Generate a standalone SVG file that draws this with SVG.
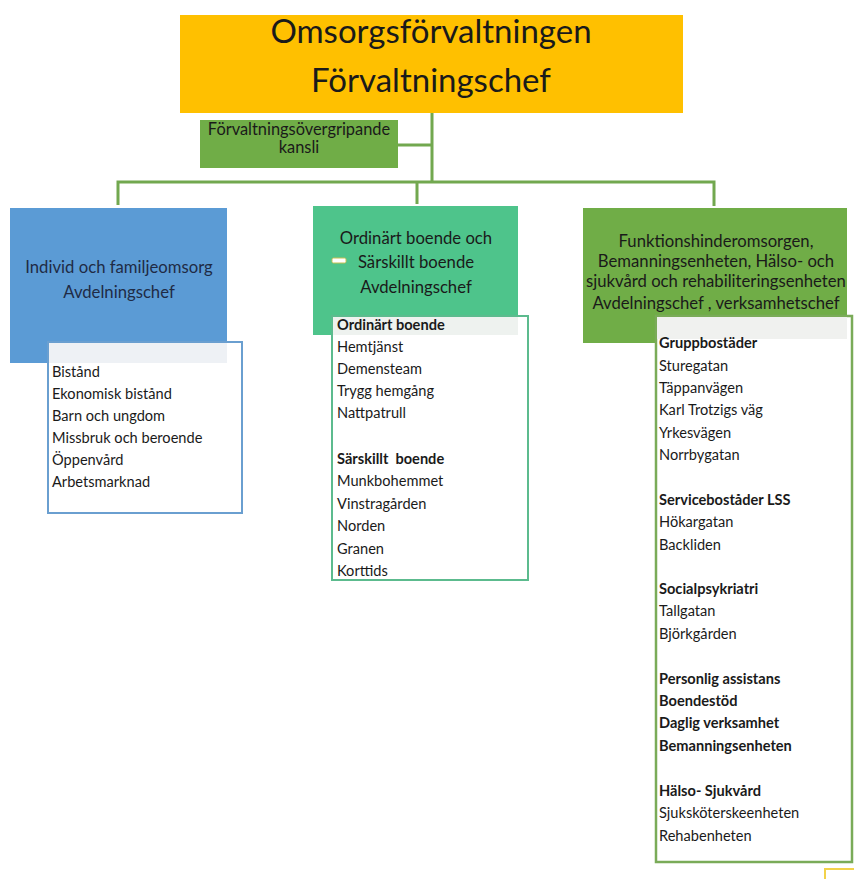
<svg xmlns="http://www.w3.org/2000/svg" width="854" height="879" viewBox="0 0 854 879">
<style>
text{font-family:Lato,"Open Sans","Liberation Sans",sans-serif;fill:#1a1a1a}
.title{font-size:33px;text-anchor:middle}
.hd{font-size:16.7px;text-anchor:middle}
.li{font-size:14.6px}
.b{font-weight:bold}
.conn{fill:none;stroke:#72a84f;stroke-width:3}
</style>
<rect width="854" height="879" fill="#ffffff"/>
<g id="connectors">
<path class="conn" d="M432 113 V182 M398 145 H432 M118 205 V182 H714 V206 M417 182 V204"/>
</g>
<g id="root">
<rect x="180" y="15" width="503" height="98" fill="#ffc000"/>
<text class="title" x="431" y="43">Omsorgsförvaltningen</text>
<text class="title" x="431" y="92">Förvaltningschef</text>
</g>
<g id="kansli">
<rect x="200" y="120" width="198" height="48" fill="#70ad47"/>
<text class="hd" x="299" y="135" style="font-size:16.4px">Förvaltningsövergripande</text>
<text class="hd" x="299" y="153" style="font-size:16.4px">kansli</text>
</g>
<g id="ifo">
<rect x="10" y="208" width="217" height="155" fill="#5b9bd5"/>
<text class="hd" x="119" y="273" style="fill:#1f2b45">Individ och familjeomsorg</text>
<text class="hd" x="119" y="298" style="fill:#1f2b45">Avdelningschef</text>
</g>
<g id="ifo-list">
<rect x="48" y="342" width="194" height="171" fill="#ffffff" stroke="#6a9fd0" stroke-width="2"/>
<rect x="49" y="343" width="178" height="20" fill="#eef1f5"/>
<text class="li" x="52" y="377">Bistånd</text>
<text class="li" x="52" y="399">Ekonomisk bistånd</text>
<text class="li" x="52" y="421">Barn och ungdom</text>
<text class="li" x="52" y="443">Missbruk och beroende</text>
<text class="li" x="52" y="465">Öppenvård</text>
<text class="li" x="52" y="487">Arbetsmarknad</text>
</g>
<g id="boende">
<rect x="313" y="206" width="205" height="129" fill="#4ec48b"/>
<text class="hd" x="416" y="244">Ordinärt boende och</text>
<text class="hd" x="416" y="268">Särskillt boende</text>
<text class="hd" x="416" y="293">Avdelningschef</text>
<rect x="332" y="258" width="14" height="5" rx="1.5" fill="#ffffff" stroke="#c8c050" stroke-width="1"/>
</g>
<g id="boende-list">
<rect x="332" y="316" width="196" height="264" fill="#ffffff" stroke="#5cbb8e" stroke-width="2"/>
<rect x="333" y="317" width="185" height="18" fill="#eef2ef"/>
<text class="li b" x="337" y="330">Ordinärt boende</text>
<text class="li" x="337" y="352">Hemtjänst</text>
<text class="li" x="337" y="374">Demensteam</text>
<text class="li" x="337" y="396">Trygg hemgång</text>
<text class="li" x="337" y="418">Nattpatrull</text>
<text class="li b" x="337" y="464" style="white-space:pre">Särskillt  boende</text>
<text class="li" x="337" y="486">Munkbohemmet</text>
<text class="li" x="337" y="509">Vinstragården</text>
<text class="li" x="337" y="531">Norden</text>
<text class="li" x="337" y="554">Granen</text>
<text class="li" x="337" y="576">Korttids</text>
</g>
<g id="funktion">
<rect x="583" y="208" width="264" height="135" fill="#70ad47"/>
<text class="hd" x="716" y="247">Funktionshinderomsorgen,</text>
<text class="hd" x="716" y="267">Bemanningsenheten, Hälso- och</text>
<text class="hd" x="716" y="287">sjukvård och rehabiliteringsenheten</text>
<text class="hd" x="716" y="309">Avdelningschef , verksamhetschef</text>
</g>
<g id="funktion-list">
<rect x="656" y="316" width="196" height="546" fill="#ffffff" stroke="#7aab58" stroke-width="2.5"/>
<rect x="657" y="317" width="190" height="22" fill="#f0f1ef"/>
<text class="li b" x="659" y="348">Gruppbostäder</text>
<text class="li" x="659" y="371">Sturegatan</text>
<text class="li" x="659" y="393">Täppanvägen</text>
<text class="li" x="659" y="415">Karl Trotzigs väg</text>
<text class="li" x="659" y="438">Yrkesvägen</text>
<text class="li" x="659" y="460">Norrbygatan</text>
<text class="li b" x="659" y="505">Serviceboståder LSS</text>
<text class="li" x="659" y="527">Hökargatan</text>
<text class="li" x="659" y="550">Backliden</text>
<text class="li b" x="659" y="594">Socialpsykriatri</text>
<text class="li" x="659" y="616">Tallgatan</text>
<text class="li" x="659" y="639">Björkgården</text>
<text class="li b" x="659" y="684">Personlig assistans</text>
<text class="li b" x="659" y="706">Boendestöd</text>
<text class="li b" x="659" y="728">Daglig verksamhet</text>
<text class="li b" x="659" y="751">Bemanningsenheten</text>
<text class="li b" x="659" y="796">Hälso- Sjukvård</text>
<text class="li" x="659" y="818">Sjuksköterskeenheten</text>
<text class="li" x="659" y="841">Rehabenheten</text>
</g>
<g id="corner">
<path d="M825 879 V869 H854" fill="none" stroke="#f2d24a" stroke-width="2"/>
</g>
</svg>
